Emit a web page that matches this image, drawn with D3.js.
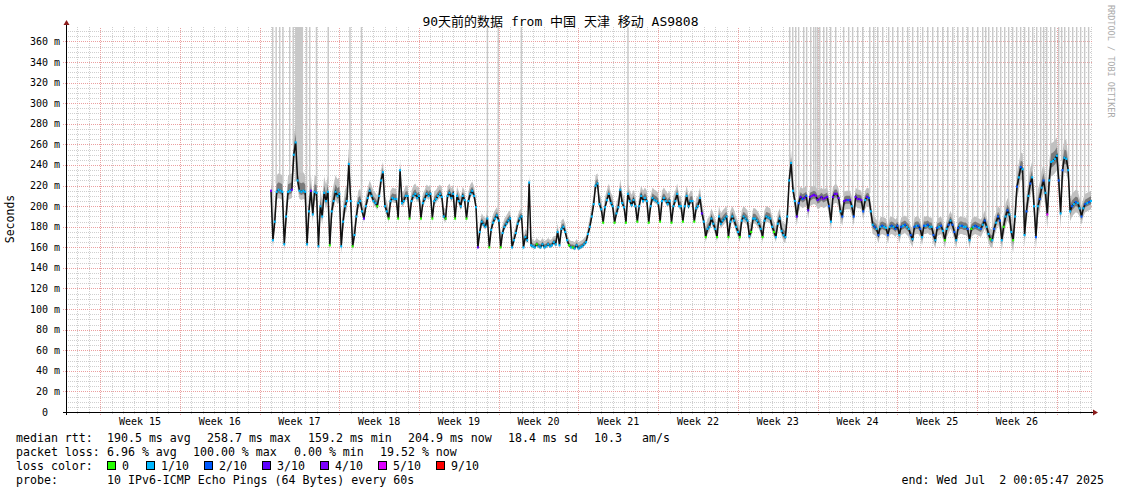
<!DOCTYPE html>
<html><head><meta charset="utf-8">
<script src="https://cdn.jsdelivr.net/npm/d3@7"></script>
<style>
body{margin:0;background:#fff}
svg{display:block}
text{font-family:"DejaVu Sans Mono",monospace;fill:#000;white-space:pre}
</style>
</head><body>
<svg id="chart" width="1121" height="494"></svg>
<script>
// ---------------- DATA ----------------
const endTime = Date.UTC(2025, 6, 2, 0, 5, 47);   // Wed Jul 2 00:05:47 2025
const spanDays = 90;
const firstDataDay = 18;        // first day (since start) that has samples
const hoursPerSample = 4;       // 6 samples per day

// median rtt (ms), one row per day, samples at +0h,+4h,+8h,+12h,+16h,+20h
const medianMs = [
 [215,167,185,214,216,215],[214,163,190,214,215,216],[250,262,225,215,214,215],
 [214,163,195,215,192,214],[213,161,200,190,213,205],[214,162,195,205,214,210],
 [212,161,185,200,205,241],[205,161,172,190,203,205],[195,188,200,208,215,210],
 [205,203,200,210,225,233],[200,195,188,205,208,207],[207,188,235,203,205,210],
 [210,188,205,210,212,208],[210,188,203,207,212,210],[212,188,205,207,210,212],
 [209,190,188,210,213,208],[212,188,210,205,200,210],[206,188,205,212,215,210],
 [199,160,175,185,182,180],[188,160,177,184,188,191],[186,160,174,180,183,186],
 [188,160,167,174,183,188],[190,160,170,167,223,162],[161,160,163,161,160,163],
 [160,161,163,161,162,165],[163,175,162,178,180,175],[167,162,160,160,159,162],
 [159,160,161,163,165,173],[180,190,202,220,222,202],[197,184,199,206,212,203],
 [200,184,193,199,216,203],[199,184,212,205,201,206],[200,185,200,210,205,208],
 [205,184,200,208,206,205],[203,185,205,208,205,202],[205,184,200,205,212,200],
 [200,185,200,210,200,205],[205,185,198,200,208,193],[185,170,178,180,188,183],
 [178,170,190,183,186,188],[190,170,185,190,186,180],[175,170,186,190,188,186],
 [171,175,188,188,186,183],[178,170,186,190,189,188],[180,175,170,183,188,176],
 [172,170,190,225,242,215],[205,190,203,209,207,208],[210,196,209,210,211,210],
 [206,207,209,207,208,209],[200,185,209,212,212,208],[195,190,205,206,206,206],
 [200,190,209,207,207,206],[195,206,209,208,195,182],[180,178,172,180,181,180],
 [179,172,180,181,180,178],[181,172,180,181,182,180],[178,172,168,180,181,181],
 [178,170,181,181,182,180],[180,172,167,179,180,181],[176,167,178,182,186,182],
 [175,167,179,181,181,180],[180,178,167,178,180,181],[180,179,178,182,186,180],
 [173,168,167,178,184,190],[186,167,180,190,196,192],[175,167,190,219,228,238],
 [236,172,195,210,222,228],[200,170,200,207,218,225],[213,192,225,243,244,246],
 [249,225,193,235,247,246],[235,195,200,202,204,203],[198,190,198,202,203,204],
 [205]
];

// packet loss per sample (x/10), one string per day
const lossTenths = [
 "411111","111113","111111","111311","111111","101111",
 "111111","101111","131111","110111","110111","101111",
 "101111","101111","101111","110111","101111","101111",
 "131111","101111","101111","111111","111111","110111",
 "111111","111111","101011","111111","111111","101111",
 "101111","101111","101111","101111","101111","101111",
 "101111","101113","101111","101111","101111","101111",
 "101111","101111","101111","111111","132323","233434",
 "343433","213343","123323","123434","213211","212121",
 "121212","212121","121212","212121","121212","101212",
 "212121","121012","212121","101212","210121","101212",
 "112121","121212","151111","121211","112121","121212",
 "1"
];

// smoke spread per day (ms above / below the median)
const smokeUpMs = [
 16,16,18,16,16,16,16,12,10,10,10,10,10,9,9,9,9,9,
 8,8,8,8,8,6,6,8,6,6,10,10,10,10,10,10,10,10,10,10,
 10,10,10,10,10,10,10,12,10,9,9,9,9,9,9,9,9,9,9,9,
 9,9,9,9,9,10,12,14,15,16,18,18,12,10,10
];
const smokeDownMs = [
 8,8,8,8,8,8,8,5,4,4,4,4,4,4,4,4,4,4,
 3,3,3,3,3,2,2,3,2,2,4,3,3,3,3,3,3,3,3,3,
 5,5,5,5,5,5,5,6,9,9,9,9,9,9,9,8,8,8,8,8,
 8,8,8,8,8,8,10,12,12,12,14,14,10,8,8
];

// periods where the slowest pings went off the top of the chart (day offset, duration h)
const spikeDay = [
 18.09,18.39,18.70,18.99,19.58,19.89,20.11,21.06,21.34,21.93,22.96,24.87,25.88,
 36.94,37.89,39.92,49.28,
 63.48,63.75,64.01,64.27,64.71,64.97,65.33,65.59,65.77,65.94,66.12,66.47,66.73,
 67.08,67.52,68.22,68.66,69.01,69.45,69.89,70.51,70.86,71.21,71.65,72.17,72.53,
 72.97,73.40,73.84,74.28,74.72,75.16,75.60,76.04,76.48,76.92,77.36,77.80,78.24,
 78.68,79.12,79.55,79.99,80.43,80.69,80.96,81.31,81.66,82.01,82.36,82.71,83.06,
 83.41,83.76,84.11,84.47,84.82,85.17,85.52,85.78,86.05,86.40,86.75,87.10,87.36,
 87.63,87.98,88.33,88.68,89.03,89.38,89.73
];
const spikeHours = spikeDay.map((d) => d === 20.11 ? 17 : 3);

const yTicks = [0,20,40,60,80,100,120,140,160,180,200,220,240,260,280,300,320,340,360];
const yTickLabels = ["0","20 m","40 m","60 m","80 m","100 m","120 m","140 m","160 m","180 m",
  "200 m","220 m","240 m","260 m","280 m","300 m","320 m","340 m","360 m"];
const weekLabels = ["Week 15","Week 16","Week 17","Week 18","Week 19","Week 20",
  "Week 21","Week 22","Week 23","Week 24","Week 25","Week 26"];

const lossLevels = [0,1,2,3,4,5,9];
const lossLabels = ["0","1/10","2/10","3/10","4/10","5/10","9/10"];
const lossColors = {0:"#26ff00",1:"#00b8ff",2:"#0059ff",3:"#5e00ff",4:"#7e00ff",5:"#dd00ff",9:"#ff0000"};

const titleText = "90天前的数据 from 中国 天津 移动 AS9808";
const statsRtt = [["median rtt:",16],["190.5 ms avg",107],["258.7 ms max",207],["159.2 ms min",308],
  ["204.9 ms now",408],["18.4 ms sd",508],["10.3",594],["am/s",642]];
const statsLoss = [["packet loss:",16],["6.96 % avg",107],["100.00 % max",193],["0.00 % min",294],["19.52 % now",380]];
const probeText = "10 IPv6-ICMP Echo Pings (64 Bytes) every 60s";
const endText = "end: Wed Jul  2 00:05:47 2025";

// ---------------- CHART ----------------
const W = 1121, H = 494;
const X0 = 66, X1 = 1091, Y0 = 412, YTOP = 27, YMAX = 374;
const startTime = endTime - spanDays * 86400e3;
const svg = d3.select("#chart");
svg.append("rect").attr("width", W).attr("height", H).attr("fill", "#fff");

const x = d3.scaleUtc().domain([new Date(startTime), new Date(endTime)]).range([X0, X1]);
const y = d3.scaleLinear().domain([0, YMAX]).range([Y0, YTOP]);

// flatten samples
const samples = [];
medianMs.forEach((row, d) => row.forEach((v, j) => {
  const idx = samples.length;
  const t = new Date(startTime + (firstDataDay * 24 + idx * hoursPerSample) * 3600e3);
  const loss = +lossTenths[d][j];
  const up = smokeUpMs[Math.min(d, smokeUpMs.length - 1)];
  const dn = smokeDownMs[Math.min(d, smokeDownMs.length - 1)];
  samples.push({t, v, loss, up, dn});
}));

// grid
const g = svg.append("g");
const crisp = (v) => Math.round(v) + 0.5;
const minorH = d3.range(5, YMAX, 5).filter(v => v % 20 !== 0);
g.selectAll(".mh").data(minorH).join("line")
  .attr("x1", X0).attr("x2", X1 + 1).attr("y1", d => crisp(y(d))).attr("y2", d => crisp(y(d)))
  .attr("stroke", "#cfcfcf").attr("stroke-dasharray", "1,1");
const days = d3.utcDay.range(new Date(startTime), new Date(endTime)).filter(d => d.getUTCDay() !== 0);
g.selectAll(".mv").data(days).join("line")
  .attr("x1", d => crisp(x(d))).attr("x2", d => crisp(x(d))).attr("y1", Y0 + 2).attr("y2", YTOP)
  .attr("stroke", "#cfcfcf").attr("stroke-dasharray", "1,1");
const sundays = d3.utcSunday.range(new Date(startTime), new Date(endTime));
g.selectAll(".Mv").data(sundays).join("line")
  .attr("x1", d => crisp(x(d))).attr("x2", d => crisp(x(d))).attr("y1", Y0 + 3).attr("y2", YTOP)
  .attr("stroke", "#eba0a0").attr("stroke-dasharray", "1,1");
g.selectAll(".Mh").data(yTicks.filter(v => v > 0)).join("line")
  .attr("x1", X0 - 3).attr("x2", X1 + 1).attr("y1", d => crisp(y(d))).attr("y2", d => crisp(y(d)))
  .attr("stroke", "#eba0a0").attr("stroke-dasharray", "1,1");

// spikes that reach the top of the chart
const nearest = (t) => {
  let best = samples[0], bd = Infinity;
  for (const s of samples) { const dd = Math.abs(s.t - t); if (dd < bd) { bd = dd; best = s; } }
  return best;
};
const spikes = spikeDay.map((d, i) => {
  const t0 = new Date(startTime + d * 86400e3);
  const t1 = new Date(+t0 + spikeHours[i] * 3600e3);
  const s = nearest(new Date((+t0 + +t1) / 2));
  return {t0, t1, v: s.v + s.up * 0.5};
});
svg.append("g").selectAll("rect").data(spikes).join("rect")
  .attr("x", d => x(d.t0)).attr("width", d => Math.max(1.2, x(d.t1) - x(d.t0)))
  .attr("y", YTOP).attr("height", d => y(d.v) - YTOP)
  .attr("fill", "#c8c8c8");

// smoke
const outer = d3.area().x(d => x(d.t)).y0(d => y(d.v - d.dn)).y1(d => y(d.v + d.up));
const inner = d3.area().x(d => x(d.t)).y0(d => y(d.v - d.dn * 0.4)).y1(d => y(d.v + d.up * 0.45));
svg.append("path").datum(samples).attr("d", outer).attr("fill", "#c0c0c0");
svg.append("path").datum(samples).attr("d", inner).attr("fill", "#7a7a7a");

// median line
svg.append("path").datum(samples)
  .attr("d", d3.line().x(d => x(d.t)).y(d => y(d.v)))
  .attr("fill", "none").attr("stroke", "#111").attr("stroke-width", 1.5);

// loss colored markers
svg.append("g").selectAll("rect").data(samples).join("rect")
  .attr("x", d => x(d.t) - 1).attr("y", d => y(d.v) - 1)
  .attr("width", 2).attr("height", 2.2)
  .attr("fill", d => lossColors[d.loss]);

// axes
svg.append("line").attr("x1", X0 - 3).attr("x2", X1 + 2).attr("y1", Y0 + 0.5).attr("y2", Y0 + 0.5)
  .attr("stroke", "#000");
svg.append("line").attr("x1", X0 + 0.5).attr("x2", X0 + 0.5).attr("y1", Y0 + 3).attr("y2", YTOP - 3)
  .attr("stroke", "#000");
svg.append("path").attr("d", `M${X1 + 2},${Y0 - 2.5} L${X1 + 7},${Y0 + 0.5} L${X1 + 2},${Y0 + 3.5} Z`).attr("fill", "#8b1c1c");
svg.append("path").attr("d", `M${X0 - 2.5},${YTOP - 2} L${X0 + 0.5},${YTOP - 7} L${X0 + 3.5},${YTOP - 2} Z`).attr("fill", "#8b1c1c");

// y labels
svg.append("g").selectAll("text").data(yTicks).join("text")
  .attr("x", (d, i) => i === 0 ? 60 - 12 : 60).attr("y", d => y(d) + 3.5)
  .attr("text-anchor", "end").attr("font-size", 10)
  .text((d, i) => yTickLabels[i]);

// week labels
svg.append("g").selectAll("text").data(weekLabels).join("text")
  .attr("x", (d, i) => x(new Date(+sundays[i] + 3.5 * 86400e3)))
  .attr("y", 425).attr("text-anchor", "middle").attr("font-size", 10)
  .text(d => d);

// title
svg.append("text").attr("x", 560.5).attr("y", 26).attr("text-anchor", "middle")
  .attr("font-size", 13)
  .style("font-family", "'DejaVu Sans Mono','Noto Sans CJK SC',monospace")
  .text(titleText);

// y title
svg.append("text").attr("transform", "translate(14,219) rotate(-90)")
  .attr("text-anchor", "middle").attr("font-size", 11.5).text("Seconds");

// rrdtool watermark
svg.append("text").attr("transform", "translate(1108,5) rotate(90)")
  .attr("font-size", 8.5).style("fill", "#aaa").text("RRDTOOL / TOBI OETIKER");

// legend
const leg = svg.append("g").attr("font-size", 11.6);
statsRtt.forEach(([t, xx]) => leg.append("text").attr("x", xx).attr("y", 442).text(t));
statsLoss.forEach(([t, xx]) => leg.append("text").attr("x", xx).attr("y", 456).text(t));
leg.append("text").attr("x", 16).attr("y", 470).text("loss color:");
const boxX = [107,146,204,262,320,378,436];
lossLevels.forEach((lv, i) => {
  leg.append("rect").attr("x", boxX[i] + 0.5).attr("y", 461.5).attr("width", 8).attr("height", 8)
    .attr("fill", lossColors[lv]).attr("stroke", "#000");
  leg.append("text").attr("x", boxX[i] + 15).attr("y", 470).text(lossLabels[i]);
});
leg.append("text").attr("x", 16).attr("y", 484).text("probe:");
leg.append("text").attr("x", 107).attr("y", 484).text(probeText);
leg.append("text").attr("x", 1104).attr("y", 484).attr("text-anchor", "end").text(endText);
</script>
</body></html>
